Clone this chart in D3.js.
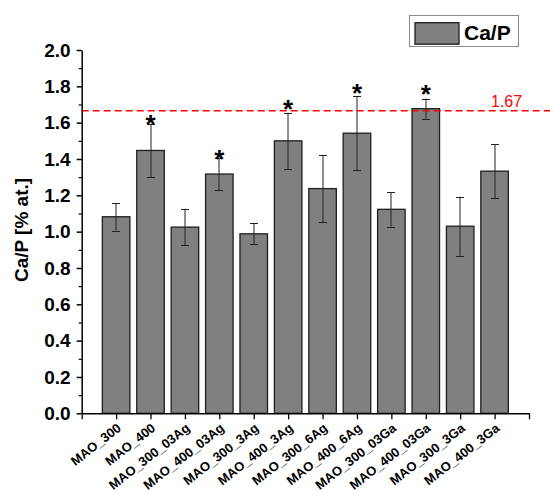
<!DOCTYPE html>
<html>
<head>
<meta charset="utf-8">
<script src="https://cdn.jsdelivr.net/npm/d3@7"></script>
<style>
  html, body { margin: 0; padding: 0; background: #ffffff; }
  svg { display: block; font-family: "Liberation Sans", Arial, sans-serif; }
</style>
</head>
<body>
<svg id="chart" width="550" height="495"></svg>
<script>
// ---- data ----
const categories = ["MAO_300", "MAO_400", "MAO_300_03Ag", "MAO_400_03Ag", "MAO_300_3Ag", "MAO_400_3Ag",
                    "MAO_300_6Ag", "MAO_400_6Ag", "MAO_300_03Ga", "MAO_400_03Ga", "MAO_300_3Ga", "MAO_400_3Ga"];
const values = [1.082, 1.447, 1.025, 1.317, 0.988, 1.500, 1.237, 1.542, 1.123, 1.677, 1.030, 1.333];
const errors = [0.076, 0.146, 0.101, 0.088, 0.057, 0.155, 0.185, 0.205, 0.095, 0.056, 0.163, 0.148];
const starred = ["MAO_400", "MAO_400_03Ag", "MAO_400_3Ag", "MAO_400_6Ag", "MAO_400_03Ga"];
const starLevels = [1.619, 1.426, 1.705, 1.790, 1.787];
const yMajorTicks = [0.0, 0.2, 0.4, 0.6, 0.8, 1.0, 1.2, 1.4, 1.6, 1.8, 2.0];
const yMinorTicks = [0.1, 0.3, 0.5, 0.7, 0.9, 1.1, 1.3, 1.5, 1.7, 1.9];
const refValue = 1.665;
const refLabel = "1.67";
const seriesName = "Ca/P";
const yTitle = "Ca/P [% at.]";

// ---- layout ----
const svg = d3.select("#chart");
const x = d3.scaleLinear().domain([0, categories.length + 1]).range([81.7, 529]);
const y = d3.scaleLinear().domain([0, 2]).range([413.3, 50]);
const step = x(1) - x(0);
const barW = step * 0.8;
const barFill = "#808080";
const barStroke = "#1e1e1e";

// bars
svg.append("g").selectAll("rect").data(values).join("rect")
  .attr("x", (d, i) => x(i + 1) - barW / 2)
  .attr("y", d => y(d))
  .attr("width", barW)
  .attr("height", d => y(0) - y(d))
  .attr("fill", barFill)
  .attr("stroke", barStroke)
  .attr("stroke-width", 1.3);

// error bars
const eg = svg.append("g").attr("stroke", "#222").attr("stroke-width", 1);
values.forEach((v, i) => {
  const cx = Math.round(x(i + 1));
  const top = y(v + errors[i]);
  const bot = y(v - errors[i]);
  eg.append("line").attr("x1", cx).attr("x2", cx).attr("y1", top).attr("y2", bot);
  eg.append("line").attr("x1", cx - 4).attr("x2", cx + 4).attr("y1", Math.round(top) + 0.5).attr("y2", Math.round(top) + 0.5);
  eg.append("line").attr("x1", cx - 4).attr("x2", cx + 4).attr("y1", Math.round(bot) + 0.5).attr("y2", Math.round(bot) + 0.5);
});

// stars
starred.forEach((name, k) => {
  const i = categories.indexOf(name);
  svg.append("text")
    .attr("x", x(i + 1))
    .attr("y", y(starLevels[k]) + 14)
    .attr("text-anchor", "middle")
    .attr("font-size", 26)
    .attr("font-weight", "bold")
    .attr("fill", "#000")
    .text("*");
});

// reference line
svg.append("line")
  .attr("x1", x(0)).attr("x2", 550)
  .attr("y1", y(refValue)).attr("y2", y(refValue))
  .attr("stroke", "#ff0000").attr("stroke-width", 1.5)
  .attr("stroke-dasharray", "7,4");
svg.append("text")
  .attr("x", 491).attr("y", y(refValue) - 4)
  .attr("font-size", 16)
  .attr("fill", "#ff0000")
  .text(refLabel);

// y axis
const yAxis = svg.append("g").attr("transform", `translate(${x(0)},0)`)
  .call(d3.axisLeft(y).tickValues(yMajorTicks).tickSize(5).tickSizeOuter(0).tickPadding(6)
        .tickFormat(d3.format(".1f")));
yAxis.selectAll("text").attr("font-size", 19).attr("font-weight", "bold").attr("fill", "#000")
  .attr("font-family", "Liberation Sans, Arial, sans-serif");
yAxis.select(".domain").attr("stroke-width", 1.5).attr("stroke", "#000");
yAxis.selectAll(".tick line").attr("stroke-width", 1.5);
const yMinor = svg.append("g").attr("transform", `translate(${x(0)},0)`)
  .call(d3.axisLeft(y).tickValues(yMinorTicks).tickSize(3).tickFormat(""));
yMinor.select(".domain").remove();
yMinor.selectAll(".tick line").attr("stroke-width", 1.2);

// x axis
const xAxis = svg.append("g").attr("transform", `translate(0,${y(0)})`)
  .call(d3.axisBottom(x).tickValues(d3.range(0, categories.length + 2)).tickSize(6).tickSizeOuter(0)
        .tickFormat(() => ""));
xAxis.select(".domain").attr("stroke-width", 1.5).attr("stroke", "#000");
xAxis.selectAll(".tick line").attr("stroke-width", 1.3);

// x labels
svg.append("g").selectAll("text").data(categories).join("text")
  .attr("transform", (d, i) => `translate(${x(i + 1)},${y(0) + 9}) rotate(-38)`)
  .attr("text-anchor", "end")
  .attr("dy", "0.72em")
  .attr("font-size", 13)
  .attr("font-weight", "bold")
  .attr("fill", "#000")
  .text(d => d);

// y title
svg.append("text")
  .attr("transform", "translate(28,230) rotate(-90)")
  .attr("text-anchor", "middle")
  .attr("font-size", 19)
  .attr("font-weight", "bold")
  .attr("fill", "#000")
  .text(yTitle);

// legend
const lg = svg.append("g");
lg.append("rect").attr("x", 409.5).attr("y", 15.5).attr("width", 109).attr("height", 31)
  .attr("fill", "#fff").attr("stroke", "#8c8c8c").attr("stroke-width", 1);
lg.append("rect").attr("x", 415).attr("y", 22.7).attr("width", 44).attr("height", 21.5)
  .attr("fill", barFill).attr("stroke", barStroke).attr("stroke-width", 1.3);
lg.append("text").attr("x", 464).attr("y", 40)
  .attr("font-size", 21).attr("font-weight", "bold").attr("fill", "#000")
  .text(seriesName);
</script>
</body>
</html>
